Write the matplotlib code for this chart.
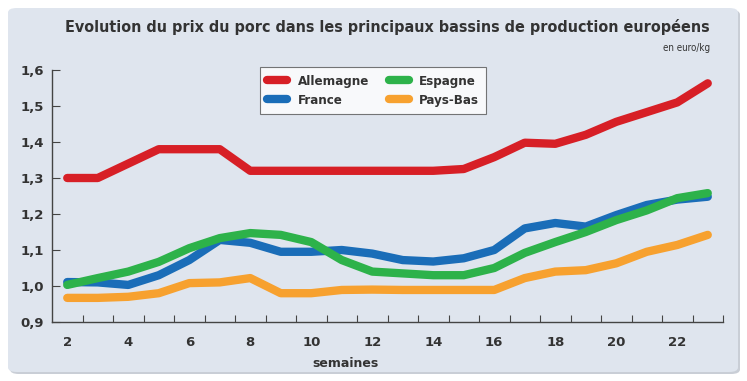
import matplotlib.pyplot as plt
from matplotlib.patches import FancyBboxPatch
from matplotlib.ticker import FuncFormatter, FixedLocator
import numpy as np

weeks = list(range(2, 24))

allemagne = [1.30, 1.30, 1.34, 1.38, 1.38, 1.38, 1.32, 1.32, 1.32, 1.32, 1.32,
             1.32, 1.32, 1.325, 1.358, 1.398, 1.395, 1.42, 1.456, 1.483, 1.51, 1.563]
france = [1.011, 1.010, 1.003, 1.03, 1.072, 1.128, 1.12, 1.095, 1.095, 1.10, 1.09,
          1.072, 1.068, 1.077, 1.10, 1.16, 1.175, 1.165, 1.197, 1.225, 1.24, 1.248]
espagne = [1.003, 1.022, 1.04, 1.067, 1.105, 1.133, 1.147, 1.142, 1.122, 1.072, 1.04,
           1.035, 1.03, 1.03, 1.05, 1.092, 1.122, 1.15, 1.183, 1.21, 1.244, 1.258]
pays_bas = [0.967, 0.967, 0.97, 0.98, 1.008, 1.01, 1.022, 0.98, 0.98, 0.989, 0.99,
            0.989, 0.989, 0.989, 0.989, 1.022, 1.04, 1.044, 1.063, 1.095, 1.114, 1.142]

colors = {"Allemagne": "#d71f26", "France": "#1a6db8",
          "Espagne": "#2db24a", "Pays-Bas": "#f7a12f"}
panel_bg = "#dfe5ee"
text_col = "#333333"

fig = plt.figure(figsize=(7.47, 3.81), dpi=100)

# grey rounded panel behind everything
shadow = FancyBboxPatch((10 / 747, 7 / 381), 730 / 747, 364 / 381,
                        boxstyle="round,pad=0,rounding_size=0.012",
                        transform=fig.transFigure, facecolor="#c9ced6",
                        edgecolor="none", zorder=-2)
panel = FancyBboxPatch((8 / 747, 9 / 381), 730 / 747, 364 / 381,
                       boxstyle="round,pad=0,rounding_size=0.012",
                       transform=fig.transFigure, facecolor=panel_bg,
                       edgecolor="none", zorder=-1)
fig.patches.extend([shadow, panel])

ax = fig.add_axes([52 / 747, 1 - 322 / 381, (723 - 52) / 747, (322 - 70) / 381])
ax.set_facecolor("none")

lw = 6
ax.plot(weeks, allemagne, color=colors["Allemagne"], lw=lw,
        solid_joinstyle="round", solid_capstyle="round", label="Allemagne")
ax.plot(weeks, france, color=colors["France"], lw=lw,
        solid_joinstyle="round", solid_capstyle="round", label="France")
ax.plot(weeks, espagne, color=colors["Espagne"], lw=lw,
        solid_joinstyle="round", solid_capstyle="round", label="Espagne")
ax.plot(weeks, pays_bas, color=colors["Pays-Bas"], lw=lw,
        solid_joinstyle="round", solid_capstyle="round", label="Pays-Bas")

ax.set_xlim(1.5, 23.5)
ax.set_ylim(0.9, 1.6)
for s in ("top", "right"):
    ax.spines[s].set_visible(False)
for s in ("left", "bottom"):
    ax.spines[s].set_color("#444444")
    ax.spines[s].set_linewidth(1.0)

ax.xaxis.set_major_locator(FixedLocator(np.arange(2.5, 24, 1)))
ax.xaxis.set_major_formatter(FuncFormatter(lambda v, p: ""))
ax.xaxis.set_minor_locator(FixedLocator(range(2, 23, 2)))
ax.xaxis.set_minor_formatter(FuncFormatter(lambda v, p: f"{int(round(v))}"))
ax.tick_params(axis="x", which="major", direction="in", length=5,
               color="#444444")
ax.tick_params(axis="x", which="minor", length=0, pad=10,
               labelsize=9.5, labelcolor=text_col)
ax.set_yticks(np.arange(0.9, 1.61, 0.1))
ax.yaxis.set_major_formatter(FuncFormatter(lambda v, p: f"{v:.1f}".replace(".", ",")))
ax.tick_params(axis="y", direction="in", length=6, color="#444444",
               labelsize=9.5, labelcolor=text_col, pad=6)
for lab in ax.get_xticklabels(minor=True) + ax.get_yticklabels():
    lab.set_fontweight("bold")

ax.set_xlabel("semaines", fontsize=9, fontweight="bold", color=text_col)
ax.xaxis.set_label_coords(0.437, -0.14)

handles, labels = ax.get_legend_handles_labels()
leg = ax.legend(handles, labels, ncol=2, loc="upper left",
                bbox_to_anchor=((260 - 52) / 671, 1.01), fontsize=9.5,
                frameon=True, fancybox=False, handlelength=1.5,
                handletextpad=0.8, columnspacing=1.5, labelspacing=0.45,
                borderpad=0.55, borderaxespad=0)
leg.get_frame().set_edgecolor("#555555")
leg.get_frame().set_facecolor("white")
leg.get_frame().set_linewidth(0.8)
for t in leg.get_texts():
    t.set_fontweight("bold")
    t.set_fontstretch("condensed")
    t.set_color(text_col)

fig.text(710 / 747, 1 - 27 / 381,
         "Evolution du prix du porc dans les principaux bassins de production européens",
         ha="right", va="center", fontsize=11.5, fontweight="bold",
         fontstretch="condensed", color=text_col)
fig.text(710 / 747, 1 - 48 / 381, "en euro/kg", ha="right", va="center",
         fontsize=7, fontstretch="condensed", color=text_col)

fig.savefig("out.png", dpi=100)
